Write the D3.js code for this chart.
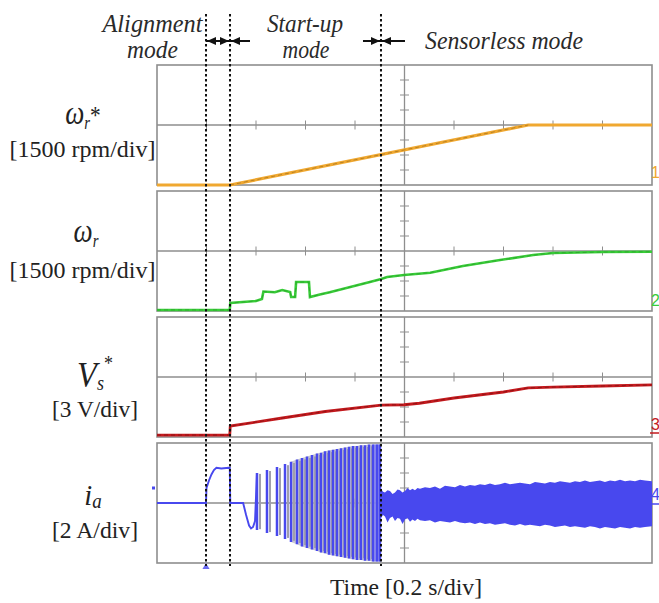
<!DOCTYPE html>
<html><head><meta charset="utf-8">
<script src="https://cdn.jsdelivr.net/npm/d3@7"></script>
<style>
html,body{margin:0;padding:0;background:#fff;}
svg{display:block;}
</style></head><body>
<svg id="c" width="659" height="603" font-family="Liberation Serif, Times New Roman, Times, serif"></svg>
<script>
// ---------------- data (x in divisions, 0.2 s/div; y in divisions) ----------------
const xDivTicks = [1,2,3,4,6,7,8,9];
const yDivTicks = [-3,-2,-1,1,2,3];
const modeBoundaries = [0.99, 1.475, 4.525];
const modeNames = ["Alignment", "mode", "Start-up", "mode", "Sensorless mode"];
const unitLabels = ["[1500 rpm/div]", "[1500 rpm/div]", "[3 V/div]", "[2 A/div]"];
const channelNames = ["1", "2", "3", "4"];
const timeLabel = "Time [0.2 s/div]";

// Ch1: speed reference
const wRefT = [0, 1.475, 7.5, 10];
const wRefV = [-4, -4, 0, 0];
// Ch2: estimated speed
const wT = [0, 1.47, 1.48, 2.0, 2.12, 2.15, 2.38, 2.53, 2.69, 2.71, 2.79, 2.81, 3.07, 3.09, 3.29, 3.49, 4.3, 4.53, 4.65, 4.99, 5.52, 6.18, 6.93, 7.6, 8.0, 9.0, 10];
const wV = [-3.93, -3.93, -3.47, -3.33, -3.2, -2.7, -2.75, -2.6, -2.73, -3.07, -3.07, -2.07, -2.07, -3.07, -2.9, -2.75, -2.07, -1.87, -1.73, -1.6, -1.45, -1.0, -0.6, -0.27, -0.13, -0.07, -0.05];
// Ch3: voltage reference
const vT = [0, 1.47, 1.48, 2.5, 3.4, 4.53, 4.99, 5.3, 6.0, 7.0, 7.5, 8.0, 9.0, 10];
const vV = [-3.87, -3.87, -3.27, -2.75, -2.3, -1.87, -1.85, -1.75, -1.4, -1.0, -0.73, -0.67, -0.6, -0.53];
// Ch4: phase current - alignment part and first negative lobe
const iaAlignT = [0, 0.99, 1.0, 1.05, 1.1, 1.15, 1.2, 1.3, 1.45, 1.47, 1.48, 1.74, 1.8, 1.86, 1.9, 1.94, 1.98, 2.02];
const iaAlignV = [0, 0, 1.0, 1.5, 1.9, 2.2, 2.35, 2.3, 2.35, 2.35, 0, 0, -0.8, -1.5, -1.7, -1.6, -1.2, 2.0];
// Ch4: start-up oscillation bars (position, upper peak, lower peak)
const iaBarT  = [2.02, 2.222, 2.424, 2.586, 2.707, 2.828, 2.929, 3.03, 3.131, 3.232, 3.313, 3.394, 3.475, 3.556, 3.636, 3.717, 3.798, 3.879, 3.96, 4.04, 4.121, 4.202, 4.283, 4.364, 4.444, 4.505];
const iaBarHi = [2.0, 2.2, 2.4, 2.6, 2.75, 2.9, 3.0, 3.1, 3.2, 3.3, 3.35, 3.45, 3.5, 3.55, 3.6, 3.65, 3.7, 3.75, 3.8, 3.8, 3.85, 3.85, 3.9, 3.9, 3.9, 3.9];
const iaBarLo = [-1.8, -2.0, -2.2, -2.4, -2.6, -2.75, -2.9, -3.0, -3.1, -3.2, -3.3, -3.35, -3.45, -3.5, -3.55, -3.6, -3.65, -3.7, -3.75, -3.8, -3.8, -3.85, -3.85, -3.9, -3.9, -3.9];
// Ch4: sensorless region envelope
const iaSensT  = [4.525, 4.566, 4.606, 4.657, 4.707, 4.758, 4.808, 4.859, 4.909, 4.96, 5.01, 5.061, 5.111, 5.162, 5.212, 5.263, 5.313, 5.414, 5.515, 5.616, 5.717, 5.818, 5.919, 6.02, 6.121, 6.222, 6.323, 6.424, 6.525, 6.626, 6.727, 6.828, 6.929, 7.03, 7.131, 7.232, 7.333, 7.434, 7.535, 7.636, 7.737, 7.838, 7.939, 8.04, 8.141, 8.242, 8.343, 8.444, 8.545, 8.646, 8.747, 8.848, 8.949, 9.05, 9.152, 9.253, 9.354, 9.455, 9.556, 9.657, 9.758, 9.859, 10];
const iaSensUp = [0.95, 0.75, 0.7, 0.85, 0.8, 0.6, 0.7, 0.9, 0.85, 0.7, 0.8, 1.0, 0.85, 0.95, 0.85, 1.0, 0.95, 1.05, 1.0, 1.1, 0.95, 1.15, 1.1, 1.05, 1.2, 1.1, 1.2, 1.15, 1.25, 1.2, 1.3, 1.2, 1.25, 1.35, 1.25, 1.3, 1.35, 1.3, 1.25, 1.4, 1.35, 1.3, 1.4, 1.35, 1.45, 1.4, 1.35, 1.45, 1.4, 1.5, 1.4, 1.45, 1.5, 1.4, 1.5, 1.45, 1.55, 1.45, 1.5, 1.45, 1.55, 1.5, 1.45];
const iaSensLo = [-1.0, -0.8, -0.9, -1.3, -1.0, -0.9, -1.2, -1.0, -1.05, -1.4, -1.1, -1.0, -1.25, -1.1, -1.2, -1.05, -1.15, -1.2, -1.15, -1.3, -1.2, -1.25, -1.3, -1.2, -1.3, -1.35, -1.3, -1.4, -1.3, -1.4, -1.35, -1.45, -1.4, -1.35, -1.45, -1.5, -1.4, -1.5, -1.45, -1.5, -1.55, -1.45, -1.5, -1.6, -1.55, -1.5, -1.6, -1.55, -1.6, -1.65, -1.55, -1.6, -1.7, -1.6, -1.65, -1.7, -1.6, -1.65, -1.7, -1.6, -1.65, -1.6, -1.55];

// ---------------- layout ----------------
const svg = d3.select("#c");
const X0 = 157, X1 = 652, PH = 120;
const panelTops = [65, 191, 317, 443];
const colors = ["#F0A830", "#38CC38", "#C41A1E", "#4848EE"];
const x = d3.scaleLinear().domain([0, 10]).range([X0, X1]);
const ys = panelTops.map(t => d3.scaleLinear().domain([-4, 4]).range([t + PH, t]));
const zip = (a, b) => a.map((v, i) => [v, b[i]]);

panelTops.forEach((top, i) => {
  const y = ys[i];
  const g = svg.append("g");
  g.append("rect").attr("x", X0).attr("y", top).attr("width", X1 - X0).attr("height", PH)
    .attr("fill", "none").attr("stroke", "#8e8e8e").attr("stroke-width", 1.6);
  g.append("line").attr("x1", X0).attr("x2", X1).attr("y1", y(0)).attr("y2", y(0))
    .attr("stroke", "#8e8e8e").attr("stroke-width", 1.3);
  g.append("line").attr("x1", x(5)).attr("x2", x(5)).attr("y1", top).attr("y2", top + PH)
    .attr("stroke", "#8e8e8e").attr("stroke-width", 1.3);
  g.selectAll(".xt").data(xDivTicks).join("line")
    .attr("x1", d => x(d)).attr("x2", d => x(d)).attr("y1", y(0) - 4.5).attr("y2", y(0) + 4.5)
    .attr("stroke", "#8e8e8e").attr("stroke-width", 1);
  g.selectAll(".yt").data(yDivTicks).join("line")
    .attr("x1", x(5) - 4.5).attr("x2", x(5) + 4.5).attr("y1", d => y(d)).attr("y2", d => y(d))
    .attr("stroke", "#8e8e8e").attr("stroke-width", 1);
});

const line = (y) => d3.line().x(d => x(d[0])).y(d => y(d[1]));

// Ch1
const d1 = zip(wRefT, wRefV);
svg.append("path").attr("d", line(ys[0])(d1)).attr("fill", "none").attr("stroke", colors[0]).attr("stroke-width", 3.2);
svg.append("path").attr("d", line(ys[0])(d1.slice(1, 3))).attr("fill", "none").attr("stroke", "#9a6a1a").attr("stroke-width", 0.9).attr("stroke-dasharray", "4,3").attr("opacity", 0.7);
// Ch2
const d2 = zip(wT, wV);
svg.append("path").attr("d", line(ys[1])(d2)).attr("fill", "none").attr("stroke", colors[1]).attr("stroke-width", 2.6);
svg.append("path").attr("d", line(ys[1])(d2)).attr("fill", "none").attr("stroke", "#1f7a1f").attr("stroke-width", 0.8).attr("stroke-dasharray", "4,3").attr("opacity", 0.5);
// Ch3
const d3v = zip(vT, vV);
svg.append("path").attr("d", line(ys[2])(d3v)).attr("fill", "none").attr("stroke", colors[2]).attr("stroke-width", 2.8);
svg.append("path").attr("d", line(ys[2])(d3v)).attr("fill", "none").attr("stroke", "#5a0a0a").attr("stroke-width", 0.8).attr("stroke-dasharray", "4,3").attr("opacity", 0.6);

// Ch4
const y4 = ys[3];
const bars = iaBarT.map((t, i) => ({t, hi: iaBarHi[i], lo: iaBarLo[i], i}));
svg.append("path").attr("d", d3.area().x(d => x(d.t)).y0(d => y4(d.lo)).y1(d => y4(d.hi))(bars.slice(4)))
  .attr("fill", "#b4b4be").attr("opacity", 0.7);
svg.append("path").attr("d", d3.area().x(d => x(d.t)).y0(d => y4(d.lo)).y1(d => y4(d.hi))(bars.slice(-3)))
  .attr("fill", "#8c8cf2").attr("opacity", 0.8);
svg.append("path").attr("d", line(y4)(zip(iaAlignT, iaAlignV))).attr("fill", "none")
  .attr("stroke", colors[3]).attr("stroke-width", 1.9);
svg.selectAll(".gb").data(bars.slice(0, -3)).join("line")
  .attr("x1", d => x(d.t) + 3).attr("x2", d => x(d.t) + 3).attr("y1", d => y4(d.hi * 0.97)).attr("y2", d => y4(d.lo * 0.97))
  .attr("stroke", "#a0a0aa").attr("stroke-width", 2);
svg.selectAll(".bb").data(bars).join("line")
  .attr("x1", d => x(d.t)).attr("x2", d => x(d.t)).attr("y1", d => y4(d.hi)).attr("y2", d => y4(d.lo))
  .attr("stroke", colors[3]).attr("stroke-width", 2.5);
const sens = iaSensT.map((t, i) => [t, iaSensLo[i], iaSensUp[i]]);
svg.append("path").attr("d", d3.area().x(d => x(d[0])).y0(d => y4(d[1])).y1(d => y4(d[2]))(sens))
  .attr("fill", colors[3]);

// channel markers
const chBase = [178, 306, 430, 500];
channelNames.forEach((c, i) => {
  svg.append("text").attr("x", X1 - 1).attr("y", chBase[i]).text(c)
    .attr("font-family", "Liberation Sans, Arial, sans-serif").attr("font-size", 16)
    .attr("fill", colors[i]);
});
svg.append("line").attr("x1", 650).attr("x2", 659).attr("y1", 433).attr("y2", 433).attr("stroke", colors[2]).attr("stroke-width", 1.5);
svg.append("line").attr("x1", 650).attr("x2", 659).attr("y1", 504).attr("y2", 504).attr("stroke", colors[3]).attr("stroke-width", 1.5);
svg.append("rect").attr("x", X0 - 5).attr("y", y4(1) - 1.5).attr("width", 3).attr("height", 3).attr("fill", colors[3]);
svg.append("path").attr("d", d3.symbol(d3.symbolTriangle, 22)()).attr("transform", `translate(${x(modeBoundaries[0])},${y4(-4) + 4})`).attr("fill", "#6a6af0");

// left labels
function symLabel(cx, base, parts, sx) {
  const t = svg.append("text").attr("transform", `translate(${cx},${base}) scale(${sx},1)`).attr("text-anchor", "middle").attr("fill", "#222");
  parts.forEach(p => t.append("tspan").text(p[0]).attr("dy", p[2] || 0)
    .attr("font-size", p[1]).attr("font-style", p[3] || "italic"));
}
symLabel(83, 124, [["ω", 33], ["r", 18, 5], ["*", 26, -5, "normal"]], 0.82);
symLabel(86, 242, [["ω", 33], ["r", 18, 5]], 0.82);
symLabel(95, 387, [["V", 36], ["s", 20, 3], ["*", 20, -20, "normal"]], 0.9);
symLabel(93, 505, [["i", 30], ["a", 20, 3]], 0.95);
const unitPos = [[82.5, 157, 146], [82.5, 278, 146], [95, 417, 86], [95, 538, 86]];
unitLabels.forEach((u, i) => {
  svg.append("text").attr("x", unitPos[i][0]).attr("y", unitPos[i][1]).attr("text-anchor", "middle")
    .attr("textLength", unitPos[i][2]).attr("lengthAdjust", "spacingAndGlyphs")
    .attr("font-size", 24).attr("fill", "#222").text(u);
});

// mode headers
const headPos = [[152.5, 32, 100], [152.5, 58, 51], [305, 32, 76], [306, 58, 47], [504, 49, 158]];
modeNames.forEach((m, i) => {
  svg.append("text").attr("x", headPos[i][0]).attr("y", headPos[i][1]).attr("text-anchor", "middle")
    .attr("textLength", headPos[i][2]).attr("lengthAdjust", "spacingAndGlyphs")
    .attr("font-size", 25).attr("font-style", "italic").attr("fill", "#2a2a2a").text(m);
});

// arrows
function head(xt, y, dir) {
  svg.append("path").attr("d", `M${xt},${y} L${xt - dir * 9},${y - 4} L${xt - dir * 9},${y + 4} Z`).attr("fill", "#111");
}
const ay = 41;
const [b0, b1, b2] = modeBoundaries.map(x);
svg.append("line").attr("x1", b0).attr("x2", b1).attr("y1", ay).attr("y2", ay).attr("stroke", "#111").attr("stroke-width", 2);
head(b0 + 1, ay, -1); head(b1 - 1, ay, 1);
svg.append("line").attr("x1", b1).attr("x2", b1 + 20).attr("y1", ay).attr("y2", ay).attr("stroke", "#111").attr("stroke-width", 2);
head(b1 + 1, ay, -1);
svg.append("line").attr("x1", b2 - 18).attr("x2", b2 + 24).attr("y1", ay).attr("y2", ay).attr("stroke", "#111").attr("stroke-width", 2);
head(b2 - 1, ay, 1); head(b2 + 1, ay, -1);

svg.selectAll(".bd").data(modeBoundaries).join("line")
  .attr("x1", d => x(d)).attr("x2", d => x(d)).attr("y1", 14).attr("y2", 566)
  .attr("stroke", "#111").attr("stroke-width", 2).attr("stroke-dasharray", "2.5,2.5");

// x label
svg.append("text").attr("x", 406).attr("y", 595).attr("text-anchor", "middle")
  .attr("textLength", 152).attr("lengthAdjust", "spacingAndGlyphs")
  .attr("font-size", 24).attr("fill", "#222").text(timeLabel);
</script></body></html>
